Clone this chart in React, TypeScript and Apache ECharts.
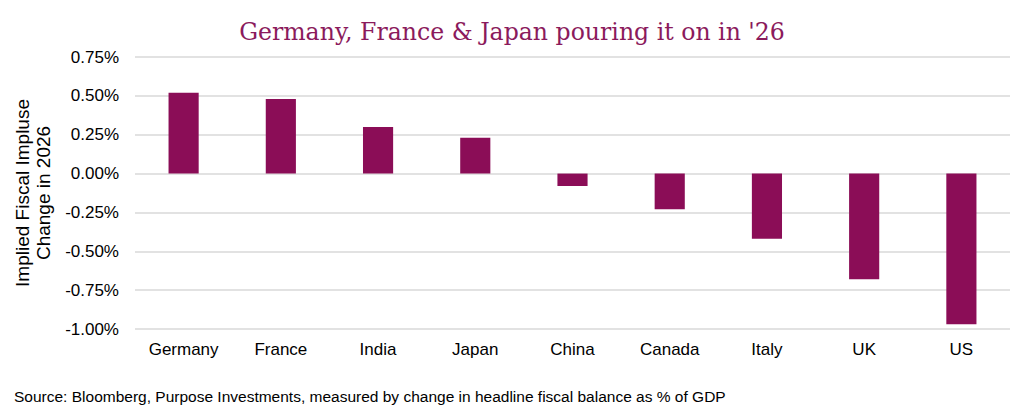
import { useEffect, useRef } from 'react'
import * as echarts from 'echarts'

const countries = ['Germany', 'France', 'India', 'Japan', 'China', 'Canada', 'Italy', 'UK', 'US']
const impulse = [0.52, 0.48, 0.3, 0.23, -0.08, -0.23, -0.42, -0.68, -0.97]

const titleText = "Germany, France & Japan pouring it on in '26"
const yAxisTitle = 'Implied Fiscal Impluse\nChange in 2026'
const sourceText = 'Source: Bloomberg, Purpose Investments, measured by change in headline fiscal balance as % of GDP'

const barColor = '#8b0d57'

export default function App() {
  const chartRef = useRef<HTMLDivElement>(null)

  useEffect(() => {
    if (!chartRef.current) return
    const chart = echarts.init(chartRef.current, undefined, { renderer: 'svg' })

    const option: echarts.EChartsOption = {
      backgroundColor: '#ffffff',
      animation: false,
      title: {
        text: titleText,
        left: 'center',
        top: 15,
        textStyle: {
          fontFamily: 'DejaVu Serif',
          fontWeight: 'normal',
          fontSize: 23.6,
          color: '#8b1a5c',
        },
      },
      graphic: [
        {
          type: 'text',
          left: 14,
          top: 388,
          style: {
            text: sourceText,
            fontFamily: 'Liberation Sans',
            fontSize: 15.5,
            fill: '#000000',
          },
        },
      ],
      grid: { left: 135, right: 14, top: 57, height: 272, outerBoundsMode: 'none' } as any,
      xAxis: {
        type: 'category',
        data: countries,
        position: 'bottom',
        axisLine: { show: false },
        axisTick: { show: false },
        axisLabel: {
          color: '#000000',
          fontFamily: 'Liberation Sans',
          fontSize: 17,
          margin: 12,
        },
      },
      yAxis: {
        type: 'value',
        min: -1,
        max: 0.75,
        interval: 0.25,
        name: yAxisTitle,
        nameLocation: 'middle',
        nameGap: 74,
        nameTextStyle: {
          color: '#000000',
          fontFamily: 'Liberation Sans',
          fontSize: 19,
          lineHeight: 21,
        },
        axisLine: { show: false },
        axisTick: { show: false },
        splitLine: { lineStyle: { color: '#d9d9d9', width: 1.5 } },
        axisLabel: {
          color: '#000000',
          fontFamily: 'Liberation Sans',
          fontSize: 17,
          margin: 16,
          formatter: (v: number) => v.toFixed(2) + '%',
        },
      },
      series: [
        {
          type: 'bar',
          data: impulse,
          barWidth: '31%',
          itemStyle: { color: barColor },
        },
      ],
    }

    chart.setOption(option)
    return () => chart.dispose()
  }, [])

  return <div ref={chartRef} style={{ position: 'absolute', left: 0, top: 0, width: 1024, height: 419 }} />
}
